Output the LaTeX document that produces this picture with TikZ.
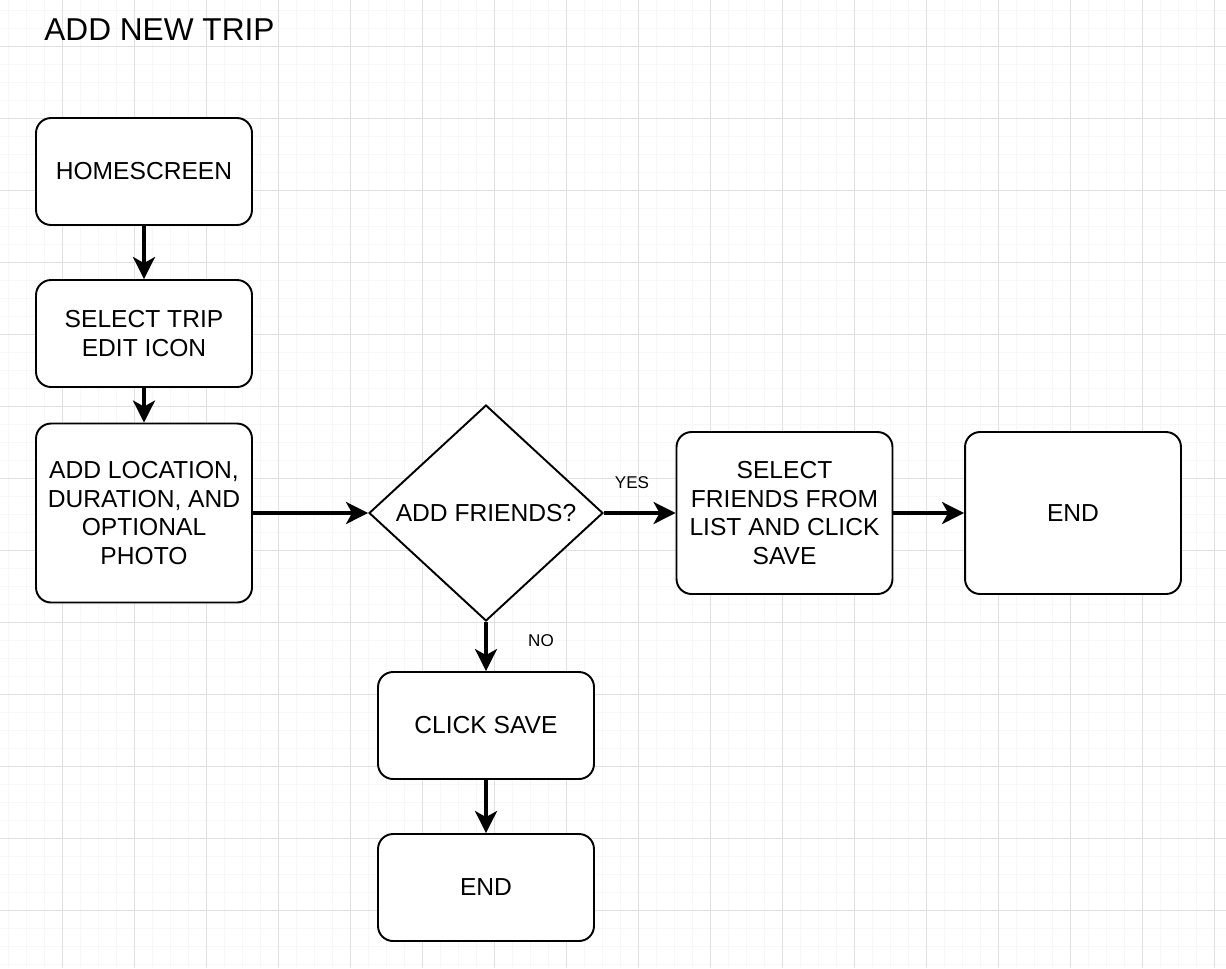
\documentclass[tikz,border=0pt]{standalone}
\usepackage{fontspec}
\setmainfont{Liberation Sans}
\usepackage{xcolor}
\definecolor{gridmajor}{RGB}{224,224,224}
\definecolor{gridminor}{RGB}{247,247,247}
\usetikzlibrary{arrows.meta, positioning, shapes.geometric}

\begin{document}
\begin{tikzpicture}[x=0.02cm, y=-0.02cm,
    >={Stealth[length=0.44cm, width=0.44cm, inset=0.12cm]},
    stepbox/.style={draw, line width=1.1pt, rounded corners=0.3cm, fill=white,
        minimum width=4.32cm, align=center, font=\fontsize{14}{16.4}\selectfont},
    decision/.style={draw, diamond, line width=1.1pt, fill=white, inner sep=0pt,
        minimum width=4.68cm, minimum height=4.32cm, font=\fontsize{14}{16.4}\selectfont},
    flow/.style={->, line width=2pt},
    tag/.style={font=\fontsize{9.7}{11}\selectfont, inner sep=0pt}]
    \useasboundingbox[fill=white] (0,0) rectangle (1226,968);
    \foreach \gx in {8.3,26.3,...,1226} \draw[gridminor, line width=0.6pt] (\gx,0) -- (\gx,968);
    \foreach \gy in {10.3,28.3,...,968} \draw[gridminor, line width=0.6pt] (0,\gy) -- (1226,\gy);
    \foreach \gx in {62.3,134.3,...,1226} \draw[gridmajor, line width=0.6pt] (\gx,0) -- (\gx,968);
    \foreach \gy in {46.3,118.3,...,968} \draw[gridmajor, line width=0.6pt] (0,\gy) -- (1226,\gy);

    \node[anchor=west, inner sep=0pt, font=\fontsize{18}{20}\selectfont] (title) at (44,29.5) {ADD NEW TRIP};

    \node[stepbox, minimum height=2.14cm] (home) at (144,171.5) {HOMESCREEN};
    \node[stepbox, minimum height=2.14cm] (select) at (144,333.5) {SELECT TRIP\\EDIT ICON};
    \node[stepbox, minimum height=3.58cm] (details) at (144,513) {ADD LOCATION,\\DURATION, AND\\OPTIONAL\\PHOTO};
    \node[decision] (friends) at (486,513) {ADD FRIENDS?};
    \node[stepbox, minimum height=3.24cm] (pick) at (784.5,513) {SELECT\\FRIENDS FROM\\LIST AND CLICK\\SAVE};
    \node[stepbox, minimum height=3.24cm] (endright) at (1073,513) {END};
    \node[stepbox, minimum height=2.14cm] (save) at (486,725.5) {CLICK SAVE};
    \node[stepbox, minimum height=2.14cm] (endbottom) at (486,887.5) {END};

    \node[tag] (yes) at (632,483) {YES};
    \node[tag] (no) at (541,641) {NO};

    \draw[flow] (home) -- (select);
    \draw[flow] (select) -- (details);
    \draw[flow] (details) -- (friends);
    \draw[flow] (friends) -- (pick);
    \draw[flow] (pick) -- (endright);
    \draw[flow] (friends) -- (save);
    \draw[flow] (save) -- (endbottom);
\end{tikzpicture}
\end{document}
